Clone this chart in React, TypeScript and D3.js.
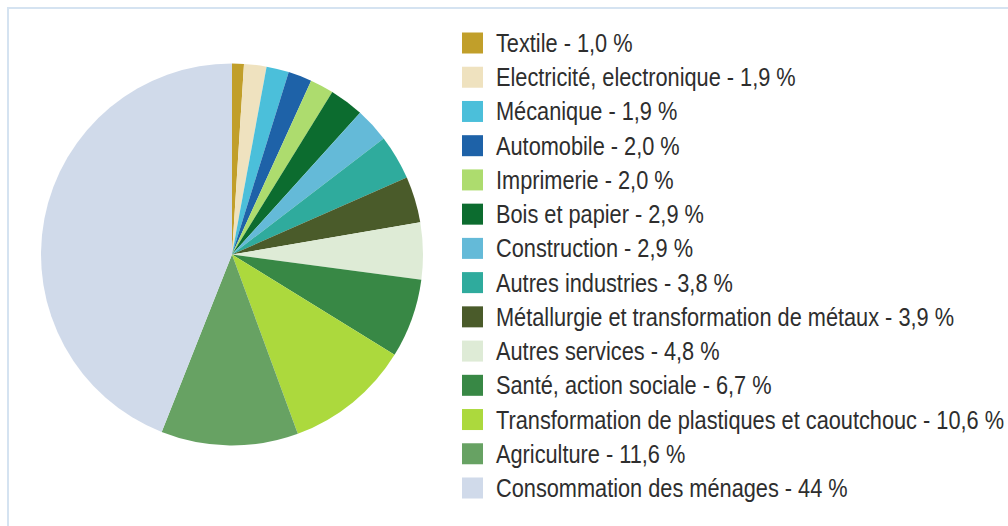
import React from "react";
import * as d3 from "d3";

const categories = [
  "Textile",
  "Electricité, electronique",
  "Mécanique",
  "Automobile",
  "Imprimerie",
  "Bois et papier",
  "Construction",
  "Autres industries",
  "Métallurgie et transformation de métaux",
  "Autres services",
  "Santé, action sociale",
  "Transformation de plastiques et caoutchouc",
  "Agriculture",
  "Consommation des ménages",
];
const values = [1.0, 1.9, 1.9, 2.0, 2.0, 2.9, 2.9, 3.8, 3.9, 4.8, 6.7, 10.6, 11.6, 44];
const valueLabels = ["1,0 %", "1,9 %", "1,9 %", "2,0 %", "2,0 %", "2,9 %", "2,9 %", "3,8 %", "3,9 %", "4,8 %", "6,7 %", "10,6 %", "11,6 %", "44 %"];
const colors = [
  "#c19f2a",
  "#efe2bf",
  "#4bbfda",
  "#1e62a8",
  "#addc6e",
  "#0c6c2f",
  "#64bad8",
  "#2fab9d",
  "#4a5b2a",
  "#deebd6",
  "#388845",
  "#acd93d",
  "#67a263",
  "#d0daea",
];

export default function App() {
  const W = 1008;
  const H = 526;
  const cx = 232;
  const cy = 254.5;
  const r = 191;
  const data = categories.map((c, i) => ({ c, v: values[i], color: colors[i], label: valueLabels[i] }));
  const pie = d3.pie<any>().sort(null).value((d) => d.v);
  const arc = d3.arc<any>().innerRadius(0).outerRadius(r);
  const arcs = pie(data);
  const y = d3.scalePoint<string>().domain(categories).range([43, 488]);
  const sq = 21;
  const sx = 0.87;
  return (
    <svg
      width={W}
      height={H}
      style={{ position: "absolute", left: 0, top: 0, background: "#fff" }}
    >
      <rect x={0} y={0} width={W} height={H} fill="#fff" />
      <rect x={8} y={8} width={W + 20} height={H + 20} fill="none" stroke="#d5e3f1" strokeWidth={2} />
      <g transform={`translate(${cx},${cy})`}>
        {arcs.map((a, i) => (
          <path key={i} d={arc(a) as string} fill={a.data.color} />
        ))}
      </g>
      <g>
        {data.map((d, i) => {
          const yc = y(d.c) as number;
          return (
            <g key={i}>
              <rect x={462} y={yc - sq / 2} width={sq} height={sq} fill={d.color} />
              <text
                transform={`translate(496,${yc + 9}) scale(${sx},1)`}
                fontFamily="'Liberation Sans', Arial, sans-serif"
                fontSize={25}
                fill="#2e2e2e"
              >
                {`${d.c} - ${d.label}`}
              </text>
            </g>
          );
        })}
      </g>
    </svg>
  );
}
